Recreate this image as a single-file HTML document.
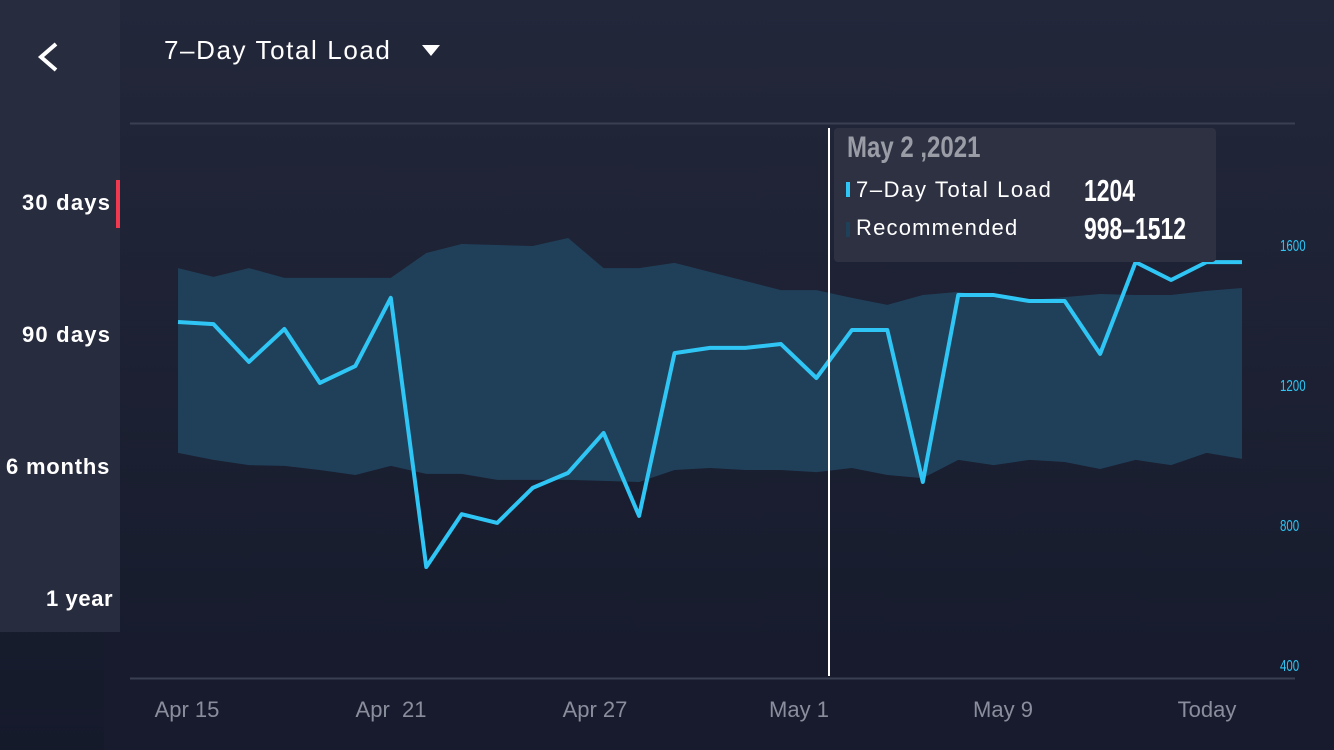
<!DOCTYPE html>
<html><head><meta charset="utf-8"><style>
body{margin:0;width:1334px;height:750px;overflow:hidden;background:#1c2033;font-family:"Liberation Sans",sans-serif;}
#bg{position:absolute;left:0;top:0;width:1334px;height:750px;background:linear-gradient(#23273a,#151a2b);}
#side{position:absolute;left:0;top:0;width:120px;height:632px;background:#272c3e;}
#bot{position:absolute;left:104px;top:632px;width:1230px;height:118px;background:#171b2d;}
.t{position:absolute;color:#fff;white-space:nowrap;}
svg{position:absolute;left:0;top:0;}
</style></head><body>
<div id="bg"></div>
<div id="side"></div>
<div id="bot"></div>
<svg width="1334" height="750">
<polyline points="56,44 41,57 56,70" fill="none" stroke="#fff" stroke-width="4"/>
<polygon points="422,45 440,45 431,56" fill="#fff"/>
<rect x="116" y="180" width="4" height="48" fill="#f0394f"/>
<line x1="130" y1="123.5" x2="1295" y2="123.5" stroke="#3a3f52" stroke-width="2"/>
<line x1="130" y1="678.5" x2="1295" y2="678.5" stroke="#3a3f52" stroke-width="2"/>
<g id="plot"></g>
<line x1="829" y1="128" x2="829" y2="676" stroke="#fff" stroke-width="2"/>
<rect x="834" y="128" width="382" height="134" rx="4" fill="#2d3142"/>
<rect x="846" y="182" width="4" height="15" fill="#2fc6f5"/>
<rect x="846" y="222" width="4" height="15" fill="#1f4059"/>
<g id="ylab"></g>
</svg>
<div class="t" style="left:164px;top:35px;font-size:26px;letter-spacing:1.6px;">7–Day Total Load</div>
<div class="t" style="left:22px;top:190px;font-size:22px;font-weight:bold;letter-spacing:1.2px;">30 days</div>
<div class="t" style="left:22px;top:322px;font-size:22px;font-weight:bold;letter-spacing:1.2px;">90 days</div>
<div class="t" style="left:6px;top:454px;font-size:22px;font-weight:bold;letter-spacing:0.8px;">6 months</div>
<div class="t" style="left:46px;top:586px;font-size:22px;font-weight:bold;letter-spacing:0.6px;">1 year</div>
<div class="t" style="left:847px;top:131px;font-size:30px;color:#9a9ca6;transform:scaleX(0.8);transform-origin:left;font-weight:bold;">May 2 ,2021</div>
<div class="t" style="left:856px;top:177px;font-size:22px;letter-spacing:1.6px;">7–Day Total Load</div>
<div class="t" style="left:1084px;top:173px;font-size:31px;transform:scaleX(0.74);transform-origin:left;font-weight:bold;">1204</div>
<div class="t" style="left:856px;top:215px;font-size:22px;letter-spacing:1.2px;">Recommended</div>
<div class="t" style="left:1084px;top:211px;font-size:31px;transform:scaleX(0.74);transform-origin:left;font-weight:bold;">998–1512</div>
<div id="xl"></div>
<script>
const loadValues=[1380,1374,1266,1360,1206,1254,1449,680,831,806,906,949,1063,826,1291,1306,1306,1317,1220,1357,1357,923,1457,1457,1440,1440,1289,1551,1500,1551,1551];
const upperValues=[1534,1509,1534,1506,1506,1506,1506,1577,1603,1600,1597,1620,1534,1534,1549,1523,1497,1471,1471,1449,1429,1457,1466,1451,1443,1451,1460,1457,1457,1469,1477];
const lowerValues=[1006,986,971,969,957,943,969,946,946,929,929,929,926,923,957,963,957,957,951,963,943,934,986,971,986,980,960,986,971,1006,989];
const yTicks=[1600,1200,800,400];
const xLabels=["Apr 15","Apr  21","Apr 27","May 1","May 9","Today"];
const NS="http://www.w3.org/2000/svg";
const xs=i=>178+i*(1242-178)/(loadValues.length-1);
const ys=v=>245+(1600-v)*0.35;
const plot=document.getElementById('plot');
let band=upperValues.map((v,i)=>xs(i)+','+ys(v));
for(let i=lowerValues.length-1;i>=0;i--)band.push(xs(i)+','+ys(lowerValues[i]));
const poly=document.createElementNS(NS,'polygon');
poly.setAttribute('points',band.join(' '));poly.setAttribute('fill','#20405a');


plot.appendChild(poly);
const line=document.createElementNS(NS,'polyline');
line.setAttribute('points',loadValues.map((v,i)=>xs(i)+','+ys(v)).join(' '));
line.setAttribute('fill','none');line.setAttribute('stroke','#2fc6f5');line.setAttribute('stroke-width','4');line.setAttribute('stroke-linejoin','round');


plot.appendChild(line);
const yl=document.getElementById('ylab');
yTicks.forEach(t=>{const e=document.createElementNS(NS,'text');
e.setAttribute('x',1280);e.setAttribute('y',ys(t)+6);e.setAttribute('fill','#2fc6f5');e.setAttribute('font-size','16');
e.setAttribute('font-family','Liberation Sans, sans-serif');
e.setAttribute('transform','translate(1280 0) scale(0.72 1) translate(-1280 0)');
e.textContent=t;


yl.appendChild(e);});
const xl=document.getElementById('xl');
xLabels.forEach((l,i)=>{const d=document.createElement('div');d.className='t';
d.style.left=(187+i*204-60)+'px';d.style.width='120px';d.style.textAlign='center';d.style.top='697px';d.style.fontSize='22px';d.style.color='#8a8e9c';d.style.whiteSpace='pre';
d.textContent=l;


xl.appendChild(d);});
</script>
</body></html>
